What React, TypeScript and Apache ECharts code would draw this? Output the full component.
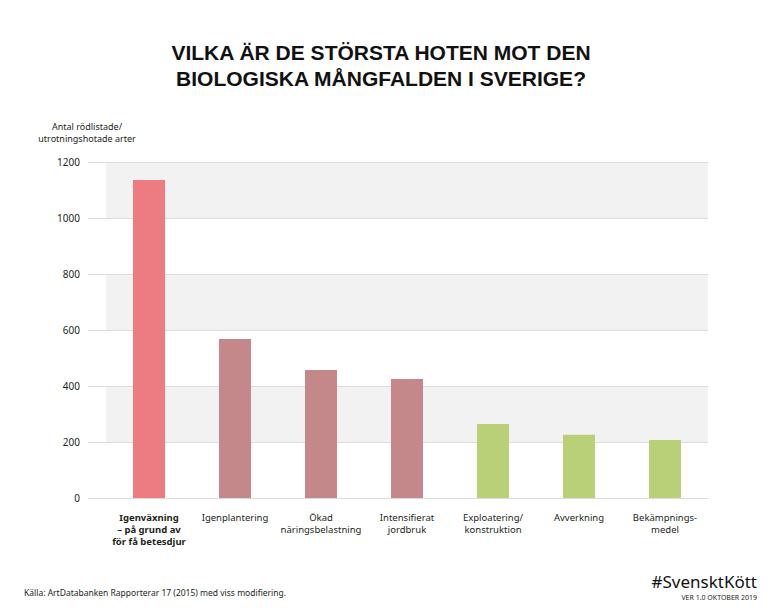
import React, { useEffect, useRef } from "react";
import * as echarts from "echarts";

const categories = [
  "Igenväxning\n– på grund av\nför få betesdjur",
  "Igenplantering",
  "Ökad\nnäringsbelastning",
  "Intensifierat\njordbruk",
  "Exploatering/\nkonstruktion",
  "Avverkning",
  "Bekämpnings-\nmedel",
];
const values = [1136, 568, 457, 425, 264, 226, 207];
const barColors = ["#ec7b82", "#c4888a", "#c4888a", "#c4888a", "#b9cf78", "#b9cf78", "#b9cf78"];
const titleLines = ["VILKA ÄR DE STÖRSTA HOTEN MOT DEN", "BIOLOGISKA MÅNGFALDEN I SVERIGE?"];
const yAxisName = "Antal rödlistade/\nutrotningshotade arter";
const sourceText = "Källa: ArtDatabanken Rapporterar 17 (2015) med viss modifiering.";
const brandText = "#SvensktKött";
const versionText = "VER 1.0 OKTOBER 2019";

const FONT = "'Noto Sans', sans-serif";
const TXT = "#231f20";

export default function App() {
  const ref = useRef<HTMLDivElement>(null);
  useEffect(() => {
    if (!ref.current) return;
    const chart = echarts.init(ref.current, null, { renderer: "svg" });
    chart.setOption({
      animation: false,
      backgroundColor: "#ffffff",
      textStyle: { fontFamily: FONT },
      grid: { left: 106, right: 60, top: 162, bottom: 116 },
      graphic: [
        {
          type: "text",
          x: 381,
          y: 39,
          style: {
            text: titleLines.join("\n"),
            font: `bold 21px 'Liberation Sans', Arial, sans-serif`,
            fill: "#111",
            textAlign: "center",
            lineHeight: 26,
          },
        },
        {
          type: "text",
          x: 87,
          y: 120,
          style: {
            text: yAxisName,
            font: `9px ${FONT}`,
            fill: TXT,
            textAlign: "center",
            lineHeight: 12,
          },
        },
        {
          type: "text",
          x: 24,
          y: 588,
          style: { text: sourceText, font: `8.5px ${FONT}`, fill: TXT },
        },
        {
          type: "text",
          x: 757,
          y: 573,
          style: { text: brandText, font: `17px ${FONT}`, fill: "#111", textAlign: "right" },
        },
        {
          type: "text",
          x: 757,
          y: 594,
          style: { text: versionText, font: `7px ${FONT}`, fill: TXT, textAlign: "right" },
        },
      ],
      xAxis: {
        type: "category",
        data: categories,
        axisLine: { show: true, lineStyle: { color: "#dcdcdc" } },
        axisTick: { show: false },
        axisLabel: {
          interval: 0,
          margin: 13,
          fontSize: 9.5,
          lineHeight: 12,
          color: TXT,
          fontFamily: FONT,
          formatter: (v: string, i: number) => (i === 0 ? `{b|${v.split("\n").join("}\n{b|")}}` : v),
          rich: { b: { fontWeight: "bold", fontSize: 9.5, lineHeight: 12, color: TXT, fontFamily: FONT } },
        },
      },
      yAxis: {
        type: "value",
        min: 0,
        max: 1200,
        interval: 200,
        axisLine: { show: false },
        axisTick: { show: true, length: 18, lineStyle: { color: "#dcdcdc" } },
        axisLabel: { margin: 26, fontSize: 10, color: TXT, fontFamily: FONT, formatter: (v: number) => String(v) },
        splitLine: { show: true, lineStyle: { color: "#dcdcdc" } },
        splitArea: { show: true, areaStyle: { color: ["#ffffff", "#f2f2f2"] } },
      },
      series: [
        {
          type: "bar",
          barWidth: 32,
          data: values.map((v, i) => ({ value: v, itemStyle: { color: barColors[i] } })),
        },
      ],
    });
    return () => chart.dispose();
  }, []);
  return <div ref={ref} style={{ width: 768, height: 614, position: "absolute", left: 0, top: 0 }} />;
}
